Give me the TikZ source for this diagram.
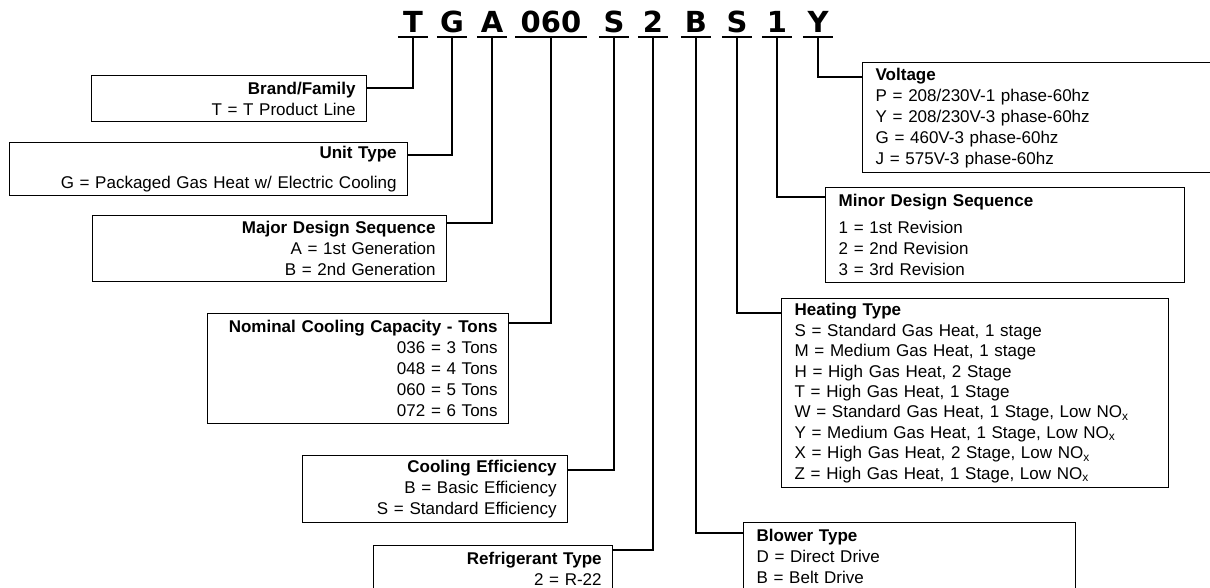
\documentclass[tikz,border=0pt]{standalone}
\usepackage{fontspec}
\setmainfont{Liberation Sans}
\newfontfamily\codefont{DejaVu Sans}
\usetikzlibrary{positioning, calc}

\tikzset{
  codechar/.style={font=\codefont\bfseries\fontsize{29}{29}\selectfont, anchor=south, inner xsep=0pt, inner ysep=4pt, text depth=0pt, minimum width=30pt},
  infoleft/.style={draw, line width=1.3pt, anchor=north west, inner xsep=11pt, inner ysep=0pt, align=right, font=\fontsize{17}{21}\selectfont},
  inforight/.style={draw, line width=1.3pt, anchor=north west, inner xsep=13pt, inner ysep=0pt, align=left, font=\fontsize{17}{21}\selectfont},
  link/.style={line width=1.3pt}
}

\begin{document}
\begin{tikzpicture}[x=1pt, y=-1pt]
\useasboundingbox (0, 0) rectangle (1210, 587);

% the model number
\node[codechar] (cT) at (413, 37) {T};
\node[codechar] (cG) at (452, 37) {G};
\node[codechar] (cA) at (492, 37) {A};
\node[codechar, minimum width=71pt] (c060) at (551, 37) {060};
\node[codechar] (cS) at (614, 37) {S};
\node[codechar] (c2) at (653, 37) {2};
\node[codechar] (cB) at (696, 37) {B};
\node[codechar] (cH) at (737, 37) {S};
\node[codechar] (c1) at (777, 37) {1};
\node[codechar] (cY) at (818, 37) {Y};

\foreach \n in {cT, cG, cA, c060, cS, c2, cB, cH, c1, cY}
  \draw [link] (\n.south west) -- (\n.south east);

% left side
\node[infoleft, text width=253pt, minimum height=46pt] (brand) at (91, 75)
  {\textbf{Brand/Family}\\T = T Product Line};
\node[infoleft, text width=376pt, minimum height=53pt] (unit) at (9, 142)
  {\textbf{Unit Type}\\[9pt]G = Packaged Gas Heat w/ Electric Cooling};
\node[infoleft, text width=332pt, minimum height=66pt] (major) at (92, 215)
  {\textbf{Major Design Sequence}\\A = 1st Generation\\B = 2nd Generation};
\node[infoleft, text width=279pt, minimum height=110pt] (cap) at (207, 313)
  {\textbf{Nominal Cooling Capacity - Tons}\\036 = 3 Tons\\048 = 4 Tons\\060 = 5 Tons\\072 = 6 Tons};
\node[infoleft, text width=243pt, minimum height=67pt] (eff) at (302, 455)
  {\textbf{Cooling Efficiency}\\B = Basic Efficiency\\S = Standard Efficiency};
\node[infoleft, text width=217pt, minimum height=47pt] (refr) at (373, 545)
  {\textbf{Refrigerant Type}\\2 = R-22};

% right side
\node[inforight, text width=327pt, minimum height=110pt] (volt) at (862, 62)
  {\textbf{Voltage}\\P = 208/230V-1 phase-60hz\\Y = 208/230V-3 phase-60hz\\G = 460V-3 phase-60hz\\J = 575V-3 phase-60hz};
\node[inforight, text width=333pt, minimum height=95pt] (minor) at (825, 187)
  {\textbf{Minor Design Sequence}\\[6pt]1 = 1st Revision\\2 = 2nd Revision\\3 = 3rd Revision};
\node[inforight, text width=361pt, minimum height=189pt, font=\fontsize{17}{20.4}\selectfont] (heat) at (781, 298)
  {\textbf{Heating Type}\\S = Standard Gas Heat, 1 stage\\M = Medium Gas Heat, 1 stage\\H = High Gas Heat, 2 Stage\\T = High Gas Heat, 1 Stage\\W = Standard Gas Heat, 1 Stage, Low NO\textsubscript{x}\\Y = Medium Gas Heat, 1 Stage, Low NO\textsubscript{x}\\X = High Gas Heat, 2 Stage, Low NO\textsubscript{x}\\Z = High Gas Heat, 1 Stage, Low NO\textsubscript{x}};
\node[inforight, text width=306pt, minimum height=68pt] (blow) at (743, 522)
  {\textbf{Blower Type}\\D = Direct Drive\\B = Belt Drive};

% connectors
\draw [link] (cT.south) |- ([yshift=-13pt]brand.north east);
\draw [link] (cG.south) |- ([yshift=-13pt]unit.north east);
\draw [link] (cA.south) |- ([yshift=-8pt]major.north east);
\draw [link] (c060.south) |- ([yshift=-10pt]cap.north east);
\draw [link] (cS.south) |- ([yshift=-15pt]eff.north east);
\draw [link] (c2.south) |- ([yshift=-5pt]refr.north east);
\draw [link] (cB.south) |- ([yshift=-11pt]blow.north west);
\draw [link] (cH.south) |- ([yshift=-15pt]heat.north west);
\draw [link] (c1.south) |- ([yshift=-10pt]minor.north west);
\draw [link] (cY.south) |- ([yshift=-15pt]volt.north west);

\end{tikzpicture}
\end{document}
